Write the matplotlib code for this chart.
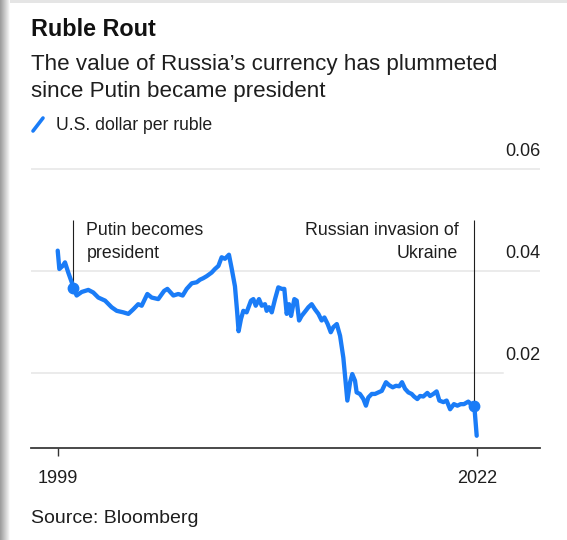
import matplotlib.pyplot as plt
from matplotlib.lines import Line2D
import numpy as np

# U.S. dollars per ruble, read at irregular dates (decimal years)
years = [1999.00, 1999.09, 1999.27, 1999.40, 1999.58, 1999.77, 1999.86, 2000.04,
         2000.32, 2000.68, 2000.95, 2001.23, 2001.60, 2001.96, 2002.24, 2002.60,
         2002.88, 2003.15, 2003.42, 2003.61, 2003.92, 2004.16, 2004.52, 2004.84,
         2005.02, 2005.35, 2005.62, 2005.86, 2006.08, 2006.36, 2006.63, 2006.81,
         2006.99, 2007.18, 2007.45, 2007.63, 2007.82, 2008.00, 2008.18, 2008.40,
         2008.55, 2008.73, 2008.85, 2008.93, 2009.06, 2009.19, 2009.37, 2009.61,
         2009.74, 2009.87, 2010.05, 2010.20, 2010.38, 2010.47, 2010.60, 2010.75,
         2010.93, 2011.11, 2011.30, 2011.44, 2011.57, 2011.70, 2011.81, 2011.99,
         2012.12, 2012.25, 2012.39, 2012.61, 2012.76, 2012.94, 2013.12, 2013.31,
         2013.49, 2013.64, 2013.82, 2013.99, 2014.13, 2014.32, 2014.50, 2014.68,
         2014.90, 2015.05, 2015.17, 2015.32, 2015.41, 2015.59, 2015.78, 2015.92,
         2016.05, 2016.24, 2016.42, 2016.60, 2016.79, 2017.02, 2017.20, 2017.39,
         2017.57, 2017.75, 2017.90, 2018.07, 2018.25, 2018.43, 2018.56, 2018.74,
         2018.89, 2019.07, 2019.29, 2019.44, 2019.62, 2019.80, 2019.95, 2020.17,
         2020.35, 2020.54, 2020.75, 2020.94, 2021.12, 2021.30, 2021.54, 2021.73,
         2021.87, 2022.00]
usd_per_rub = [0.0440, 0.0404, 0.0410, 0.0417, 0.0397, 0.0378, 0.0366, 0.0352,
               0.0359, 0.0363, 0.0358, 0.0348, 0.0342, 0.0329, 0.0322, 0.0319,
               0.0316, 0.0325, 0.0335, 0.0332, 0.0355, 0.0348, 0.0345, 0.0361,
               0.0365, 0.0352, 0.0355, 0.0352, 0.0365, 0.0376, 0.0378, 0.0383,
               0.0386, 0.0390, 0.0397, 0.0404, 0.0410, 0.0427, 0.0424, 0.0432,
               0.0405, 0.0370, 0.0320, 0.0282, 0.0306, 0.0322, 0.0319, 0.0342,
               0.0345, 0.0332, 0.0345, 0.0332, 0.0335, 0.0322, 0.0329, 0.0319,
               0.0345, 0.0368, 0.0365, 0.0365, 0.0316, 0.0335, 0.0312, 0.0345,
               0.0342, 0.0303, 0.0312, 0.0322, 0.0329, 0.0335, 0.0325, 0.0316,
               0.0303, 0.0309, 0.0296, 0.0280, 0.0290, 0.0296, 0.0273, 0.0230,
               0.0146, 0.0182, 0.0198, 0.0185, 0.0162, 0.0159, 0.0149, 0.0136,
               0.0152, 0.0159, 0.0159, 0.0162, 0.0165, 0.0182, 0.0176, 0.0172,
               0.0175, 0.0174, 0.0182, 0.0169, 0.0162, 0.0159, 0.0154, 0.0149,
               0.0155, 0.0154, 0.0161, 0.0155, 0.0159, 0.0164, 0.0146, 0.0143,
               0.0146, 0.0129, 0.0139, 0.0136, 0.0139, 0.0139, 0.0144, 0.0137,
               0.0135, 0.0077]

event_labels = ["Putin becomes\npresident", "Russian invasion of\nUkraine"]
event_years = [1999.86, 2021.87]
event_values = [0.0366, 0.0135]
event_top = 0.050

yticks = [0.02, 0.04, 0.06]
ytick_labels = ["0.02", "0.04", "0.06"]
xticks = [1999.0, 2022.0]
xtick_labels = ["1999", "2022"]

BLUE = "#1a7cf7"
INK = "#1e1e1e"
plt.rcParams["font.family"] = ["Liberation Sans", "DejaVu Sans"]

W, H = 567, 540
fig = plt.figure(figsize=(W / 100, H / 100), dpi=100)

# soft card edge on the left and top
left_shade = np.ones((H, 10, 3))
left_shade[:, :, :] = np.r_[np.linspace(0.62, 0.93, 9), 0.98][None, :, None]
fig.figimage(left_shade, xo=0, yo=0, zorder=0)
top_shade = np.full((3, W - 10, 3), 0.9)
fig.figimage(top_shade, xo=10, yo=H - 3, zorder=0)

ax = fig.add_axes([31 / W, (H - 448) / H, (540 - 31) / W, 281.5 / H])
ax.set_facecolor("none")
ax.set_xlim(1997.534, 2025.475)
ax.set_ylim(0.0053, 0.0605)

grid_ends = [0.927, 1.0, 1.0]
for v, lab, end in zip(yticks, ytick_labels, grid_ends):
    ax.axhline(v, xmax=end, color="#e6e6e6", lw=1.1, zorder=0)
    ax.annotate(lab, xy=(1, v), xycoords=("axes fraction", "data"),
                xytext=(0, 18), textcoords="offset pixels",
                ha="right", va="center", fontsize=13, color=INK)

ax.plot(years, usd_per_rub, color=BLUE, lw=3.1, solid_joinstyle="round",
        solid_capstyle="round", zorder=3)

for i, (lab, x, y) in enumerate(zip(event_labels, event_years, event_values)):
    ax.vlines(x, y, event_top, color=INK, lw=0.8, zorder=2)
    ax.plot(x, y, "o", ms=7.5, color=BLUE, zorder=4)
    dx, ha = (13, "left") if i == 0 else (-16, "right")
    for j, line in enumerate(lab.split("\n")):
        ax.annotate(line, xy=(x, event_top), xytext=(dx, -15 - 23 * j),
                    textcoords="offset pixels", ha=ha, va="baseline",
                    fontsize=12.8, color=INK)

ax.set_yticks([])
ax.set_xticks(xticks, xtick_labels)
ax.tick_params(axis="x", direction="out", length=6, width=1, color="#333333",
               pad=10, labelsize=13, labelcolor=INK)
for side in ["left", "right", "top"]:
    ax.spines[side].set_visible(False)
ax.spines["bottom"].set_color("#3a3a3a")
ax.spines["bottom"].set_linewidth(1.3)

# headline, subtitle, legend key and source
fig.text(31 / W, 1 - 35.5 / H, "Ruble Rout", fontsize=16.8, fontweight="bold",
         color="#111111", va="baseline")
fig.text(31 / W, 1 - 70 / H, "The value of Russia\u2019s currency has plummeted",
         fontsize=16.1, color=INK, va="baseline")
fig.text(31 / W, 1 - 97 / H, "since Putin became president",
         fontsize=16.1, color=INK, va="baseline")
fig.add_artist(Line2D([33 / W, 43 / W], [1 - 131 / H, 1 - 118 / H], color=BLUE,
                      lw=2.6, solid_capstyle="round"))
fig.text(56 / W, 1 - 130 / H, "U.S. dollar per ruble", fontsize=12.7,
         color=INK, va="baseline")
fig.text(31 / W, 1 - 523 / H, "Source: Bloomberg", fontsize=14, color=INK,
         va="baseline")

fig.savefig("out.png", dpi=100)
